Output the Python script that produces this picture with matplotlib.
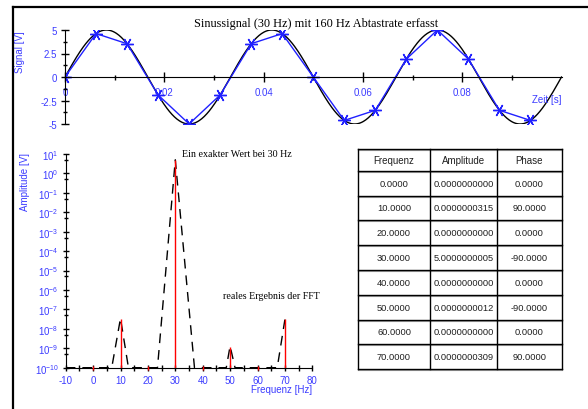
import matplotlib
matplotlib.use("Agg")
import matplotlib.pyplot as plt
import numpy as np
from matplotlib.lines import Line2D
from matplotlib.ticker import FixedLocator

plt.rcParams['font.family'] = ['Liberation Sans', 'DejaVu Sans']
plt.rcParams['mathtext.default'] = 'regular'
plt.rcParams['axes.unicode_minus'] = False

BLUE_TXT = '#3c3cff'
BLUE = '#2020ff'
RED = '#ff0000'

# --- Daten ---
# analoges Signal (Amplitude / Frequenz aus dem Titel bzw. der Grafik)
signal_amp = 5.0
signal_freq = 30.0

# Abtastwerte (160 Hz)
sample_t = [0.0, 0.00625, 0.0125, 0.01875, 0.025, 0.03125, 0.0375, 0.04375,
            0.05, 0.05625, 0.0625, 0.06875, 0.075, 0.08125, 0.0875, 0.09375]
sample_v = [0.0, 4.62, 3.54, -1.91, -5.0, -1.91, 3.54, 4.62,
            0.0, -4.62, -3.54, 1.91, 5.0, 1.91, -3.54, -4.62]

# FFT-Ergebnis
fft_freq = [0, 10, 20, 30, 40, 50, 60, 70]
fft_amp = [0.0, 3.15e-8, 0.0, 5.0000000005, 0.0, 1.2e-9, 0.0, 3.09e-8]
fft_phase = [0.0, 90.0, 0.0, -90.0, 0.0, -90.0, 0.0, 90.0]

# gestrichelte Kurve (reales Ergebnis)
dash_f = [-10, 6.8, 10, 12.9, 23.5, 30, 37, 48.6, 50, 51.8, 67.2, 70]
dash_a = [1e-10, 1e-10, 3.5e-8, 1e-10, 1e-10, 5.0, 1e-10, 1e-10, 1.3e-9, 1e-10, 1e-10, 3e-8]

table_header = ['Frequenz', 'Amplitude', 'Phase']

W, H = 588, 410
fig = plt.figure(figsize=(W / 100, H / 100), dpi=100)


def fx(px):
    return px / W


def fy(py):
    return 1 - py / H


# Rahmen
fig.add_artist(Line2D([fx(13), fx(13)], [fy(8), 0], transform=fig.transFigure, color='black', lw=1.6))
fig.add_artist(Line2D([fx(13), 1], [fy(8), fy(8)], transform=fig.transFigure, color='black', lw=1.6))

# --- oberes Diagramm: Zeitsignal ---
ax1 = fig.add_axes([fx(65), fy(125), fx(561.5) - fx(65), fy(31) - fy(125)])
t_fine = np.linspace(0, 0.1, 600)
ax1.plot(t_fine, signal_amp * np.sin(2 * np.pi * signal_freq * t_fine), color='black', lw=1)
ax1.plot(sample_t, sample_v, color=BLUE, lw=1, marker=(6, 2, 90), ms=9, mew=1)
ax1.set_xlim(0, 0.1)
ax1.set_ylim(-5, 5)
ax1.spines['top'].set_visible(False)
ax1.spines['right'].set_visible(False)
ax1.spines['bottom'].set_position(('data', 0))
ax1.spines['left'].set_position(('data', 0))
ax1.set_xticks([0, 0.02, 0.04, 0.06, 0.08])
ax1.set_xticklabels(['0', '0.02', '0.04', '0.06', '0.08'])
ax1.xaxis.set_minor_locator(FixedLocator([0.01, 0.03, 0.05, 0.07, 0.09]))
ax1.set_yticks([-5, -2.5, 0, 2.5, 5])
ax1.set_yticklabels(['-5', '-2.5', '0', '2.5', '5'])
ax1.yaxis.set_minor_locator(FixedLocator([-3.75, -1.25, 1.25, 3.75]))
ax1.tick_params(axis='x', which='major', direction='inout', length=7.2, width=1, pad=3.5,
                labelsize=7, labelcolor=BLUE_TXT)
ax1.tick_params(axis='x', which='minor', direction='inout', length=3.6, width=1)
ax1.tick_params(axis='y', which='major', direction='inout', length=5.8, width=1, pad=3,
                labelsize=7, labelcolor=BLUE_TXT)
ax1.tick_params(axis='y', which='minor', direction='inout', length=3, width=1)
ax1.patch.set_alpha(0)

fig.text(fx(316), fy(24), 'Sinussignal (30 Hz) mit 160 Hz Abtastrate erfasst',
         family='Liberation Serif', fontsize=8.8, ha='center', va='center')
fig.text(fx(20), fy(31), 'Signal [V]', rotation=90, color=BLUE_TXT, fontsize=7,
         ha='center', va='top')
fig.text(fx(561), fy(100), 'Zeit [s]', color=BLUE_TXT, fontsize=7, ha='right', va='center')

# --- unteres Diagramm: Spektrum ---
ax2 = fig.add_axes([fx(65.7), fy(368.7), fx(312.3) - fx(65.7), fy(155) - fy(368.7)])
ax2.set_yscale('log')
ax2.set_xlim(-10, 80)
ax2.set_ylim(1e-10, 1e1)
ax2.plot(dash_f, dash_a, color='black', lw=1, dashes=(7, 5))
floor = 1e-10
for f, a in zip(fft_freq, fft_amp):
    if a > floor:
        ax2.vlines(f, floor, a, color=RED, lw=1, zorder=3)
    else:
        ax2.plot(f, floor, marker='|', ms=3, color=RED, zorder=3, clip_on=False)
ax2.spines['top'].set_visible(False)
ax2.spines['right'].set_visible(False)
ax2.set_xticks(range(-10, 81, 10))
ax2.xaxis.set_minor_locator(FixedLocator(range(-5, 80, 10)))
decades = list(range(-10, 2))
ax2.yaxis.set_major_locator(FixedLocator([10.0 ** k for k in decades]))
ax2.set_yticklabels(['$10^{%d}$' % k for k in decades])
ax2.yaxis.set_minor_locator(FixedLocator([5 * 10.0 ** k for k in range(-11, 1)]))
ax2.tick_params(axis='x', which='major', direction='inout', length=5, width=1, pad=2.5,
                labelsize=7, labelcolor=BLUE_TXT)
ax2.tick_params(axis='x', which='minor', direction='inout', length=4, width=1)
ax2.tick_params(axis='y', which='major', direction='inout', length=5, width=1, pad=2.5,
                labelsize=7, labelcolor=BLUE_TXT)
ax2.tick_params(axis='y', which='minor', direction='inout', length=3.5, width=1)
ax2.patch.set_alpha(0)

fig.text(fx(25), fy(153), 'Amplitude [V]', rotation=90, color=BLUE_TXT, fontsize=7,
         ha='center', va='top')
fig.text(fx(312), fy(390), 'Frequenz [Hz]', color=BLUE_TXT, fontsize=7, ha='right', va='center')
fig.text(fx(182), fy(155), 'Ein exakter Wert bei 30 Hz', family='Liberation Serif',
         fontsize=7.2, ha='left', va='center')
fig.text(fx(223), fy(297), 'reales Ergebnis der FFT', family='Liberation Serif',
         fontsize=7.2, ha='left', va='center')

# --- Tabelle ---
tab_left, tab_right = 358, 561.7
col_x = [tab_left, 430, 497.3, tab_right]
row_y = [150, 171.7] + [171.7 + 24.8 * (i + 1) for i in range(len(fft_freq))]
cells = [table_header] + [['%.4f' % f, '%.10f' % a, '%.4f' % p]
                          for f, a, p in zip(fft_freq, fft_amp, fft_phase)]
for y in row_y:
    fig.add_artist(Line2D([fx(tab_left), fx(tab_right)], [fy(y + 1), fy(y + 1)],
                          transform=fig.transFigure, color='#a0a0a0', lw=0.8))
    fig.add_artist(Line2D([fx(tab_left), fx(tab_right)], [fy(y), fy(y)],
                          transform=fig.transFigure, color='black', lw=1))
for x in col_x:
    fig.add_artist(Line2D([fx(x), fx(x)], [fy(row_y[0]), fy(row_y[-1])],
                          transform=fig.transFigure, color='black', lw=1))
for r, row in enumerate(cells):
    yc = (row_y[r] + row_y[r + 1]) / 2
    for c, txt in enumerate(row):
        xc = (col_x[c] + col_x[c + 1]) / 2
        fig.text(fx(xc), fy(yc), txt, fontsize=7 if r == 0 else 6.7, color='#202020',
                 ha='center', va='center')

fig.savefig('out.png', dpi=100)
